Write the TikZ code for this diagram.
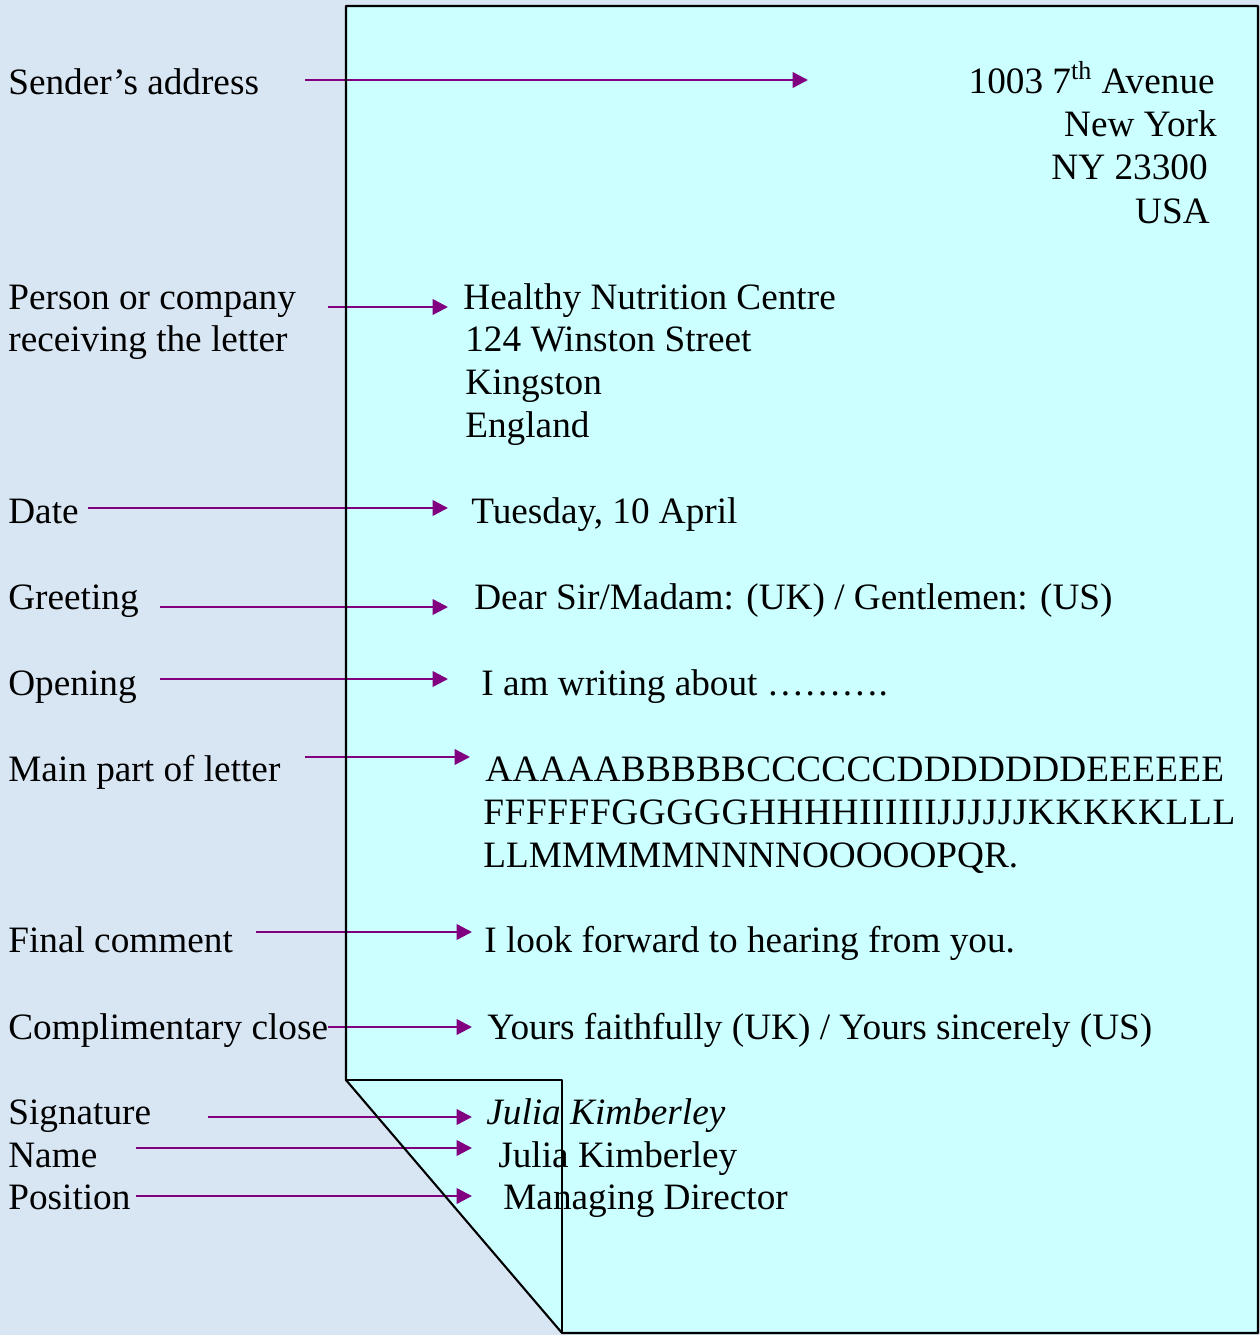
\documentclass[tikz,border=0pt]{standalone}
\usepackage{fontspec}
\setmainfont{Liberation Serif}
\usetikzlibrary{arrows.meta}
\definecolor{bgblue}{HTML}{D8E6F4}
\definecolor{paper}{HTML}{CCFFFF}
\definecolor{arrowpurple}{HTML}{800080}

\begin{document}
\begin{tikzpicture}[x=0.02cm, y=-0.02cm,
    txt/.style={anchor=base west, inner sep=0pt, font=\fontsize{21.2}{25}\selectfont},
    rtxt/.style={txt, anchor=base east},
    pointer/.style={arrowpurple, line width=1.4pt, -{Triangle[length=3.1mm, width=3.1mm]}},
    edge/.style={line width=1.2pt, line join=round}]
    \useasboundingbox (0,0) rectangle (1260,1335);
    \fill [bgblue] (0,0) rectangle (1260,1335);
    \fill [paper] (346,6) -- (1258,6) -- (1258,1333) -- (562,1333)
    -- (346,1080) -- cycle;
    % labels on the left
    \node [txt] (snd) at (8,94) {Sender's address}; \node [txt] (rcv1) at
    (8,309) {Person or company}; \node [txt] (rcv2) at (8,351) {receiving
    the letter}; \node [txt] (dat) at (8,523) {Date}; \node [txt] (grt) at
    (8,609) {Greeting}; \node [txt] (opn) at (8,695) {Opening}; \node [txt]
    (mnp) at (8,781) {Main part of letter}; \node [txt] (fin) at (8,952)
    {Final comment}; \node [txt] (cls) at (8,1039) {Complimentary close};
    \node [txt] (sig) at (8,1124) {Signature}; \node [txt] (nam) at
    (8,1167) {Name}; \node [txt] (pos) at (8,1209) {Position};
    % the letter itself
    \node [rtxt] (addr1) at (1215,93) {1003 7\textsuperscript{th} Avenue};
    \node [rtxt] (addr2) at (1217,136) {New York}; \node [rtxt] (addr3) at
    (1208,179) {NY 23300}; \node [rtxt] (addr4) at (1210,223) {USA};
    \node [txt] (to1) at (463,309) {Healthy Nutrition Centre}; \node [txt]
    (to2) at (465,351) {124 Winston Street}; \node [txt] (to3) at
    (465,394) {Kingston}; \node [txt] (to4) at (465,437) {England};
    \node [txt] (day) at (471,523) {Tuesday, 10 April}; \node [txt] (dear)
    at (474,609) {Dear Sir/Madam: (UK) / Gentlemen: (US)}; \node [txt]
    (about) at (481,695) {I am writing about ……….}; \node [txt] (body1)
    at (485,781) {\addfontfeature{LetterSpace=0.6}AAAAABBBBBCCCCCCDDDDDDDEEEEEE};
    \node [txt] (body2) at (483,824)
    {\addfontfeature{LetterSpace=1.7}FFFFFFGGGGGHHHHIIIIIIJJJJJJKKKKKLLL};
    \node [txt] (body3) at (483,867) {LLMMMMMNNNNOOOOOPQR.}; \node [txt]
    (fwd) at (484,952) {I look forward to hearing from you.}; \node [txt]
    (yours) at (487,1039) {Yours faithfully (UK) / Yours sincerely (US)};
    \node [txt] (jk1) at (486,1124) {\itshape Julia Kimberley}; \node [txt]
    (jk2) at (498,1167) {Julia Kimberley}; \node [txt] (md) at (503,1209)
    {Managing Director};
    % arrow ends
    \coordinate (sndT) at (305,80); \coordinate (sndH) at (808,80);
    \coordinate (rcvT) at (328,307); \coordinate (rcvH) at (448,307);
    \coordinate (datT) at (88,508); \coordinate (datH) at (448,508);
    \coordinate (grtT) at (160,607); \coordinate (grtH) at (448,607);
    \coordinate (opnT) at (160,679); \coordinate (opnH) at (448,679);
    \coordinate (mnpT) at (305,757); \coordinate (mnpH) at (470,757);
    \coordinate (finT) at (256,932); \coordinate (finH) at (472,932);
    \coordinate (clsT) at (328,1027); \coordinate (clsH) at (472,1027);
    \coordinate (sigT) at (208,1117); \coordinate (sigH) at (472,1117);
    \coordinate (namT) at (136,1148); \coordinate (namH) at (472,1148);
    \coordinate (posT) at (136,1196); \coordinate (posH) at (472,1196);
    \draw [pointer] (sndT) -- (sndH); \draw [pointer] (rcvT) -- (rcvH);
    \draw [pointer] (datT) -- (datH); \draw [pointer] (grtT) -- (grtH);
    \draw [pointer] (opnT) -- (opnH); \draw [pointer] (mnpT) -- (mnpH);
    \draw [pointer] (finT) -- (finH); \draw [pointer] (clsT) -- (clsH);
    \draw [pointer] (sigT) -- (sigH); \draw [pointer] (namT) -- (namH);
    \draw [pointer] (posT) -- (posH);
    % page edge and folded corner
    \draw [edge] (562,1333) -- (346,1080) -- (346,6) -- (1258,6) --
    (1258,1333) -- cycle; \draw [edge] (346,1080) -- (562,1080) --
    (562,1333);
\end{tikzpicture}
\end{document}
